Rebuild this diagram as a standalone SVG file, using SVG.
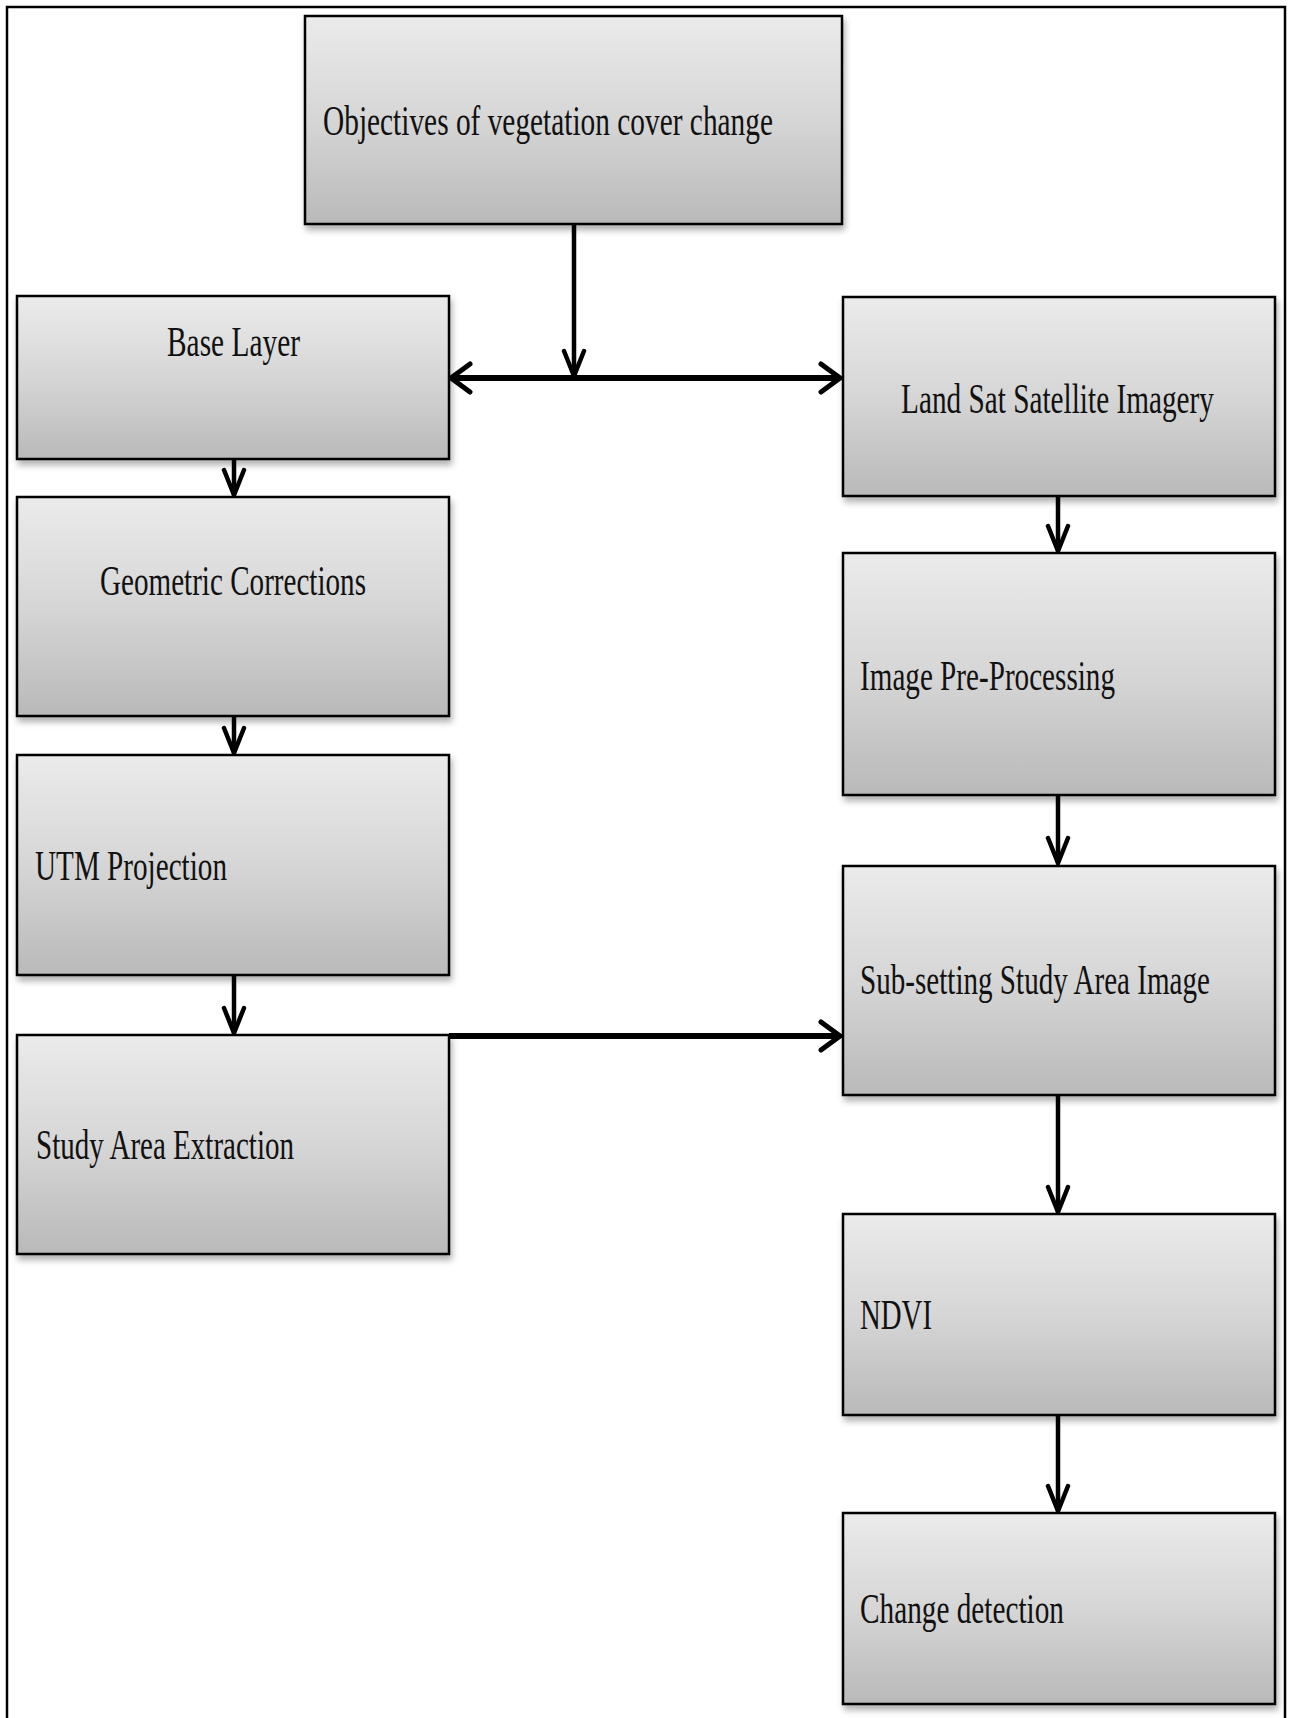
<svg xmlns="http://www.w3.org/2000/svg" width="1292" height="1718" viewBox="0 0 1292 1718">
<style>
.box{fill:url(#g);stroke:#000;stroke-width:2.5;filter:url(#sh)}
.t{font-family:"Liberation Serif","Times New Roman",serif;font-size:28px;fill:#111}
.v{stroke:#000;stroke-width:4.5;fill:none;marker-end:url(#av)}
.h{stroke:#000;stroke-width:6;fill:none;marker-end:url(#ah)}
</style>
<defs>
<linearGradient id="g" x1="0" y1="0" x2="0" y2="1">
<stop offset="0" stop-color="#ebebeb"/>
<stop offset="0.5" stop-color="#d6d6d6"/>
<stop offset="1" stop-color="#b9b9b9"/>
</linearGradient>
<filter id="sh" x="-5%" y="-5%" width="115%" height="120%">
<feDropShadow dx="2" dy="5" stdDeviation="3" flood-color="#000" flood-opacity="0.3"/>
</filter>
<marker id="av" markerUnits="userSpaceOnUse" viewBox="-30 -14 34 28" refX="0" refY="0" markerWidth="34" markerHeight="28" orient="auto">
<path d="M-25,-10 L0,0 L-25,10" fill="none" stroke="#000" stroke-width="4.5" stroke-linecap="round" stroke-linejoin="miter"/>
</marker>
<marker id="ah" markerUnits="userSpaceOnUse" viewBox="-24 -18 28 36" refX="0" refY="0" markerWidth="28" markerHeight="36" orient="auto">
<path d="M-19,-14 L0,0 L-19,14" fill="none" stroke="#000" stroke-width="5" stroke-linecap="round" stroke-linejoin="miter"/>
</marker>
</defs>
<rect width="1292" height="1718" fill="#fff"/>
<path d="M7,1720 V7 H1285 V1720" fill="none" stroke="#000" stroke-width="2.5"/>

<g id="connectors">
<path class="v" d="M574,225 V376"/>
<path class="h" d="M574,378 H451"/>
<path class="h" d="M574,378 H840"/>
<path class="v" d="M234,460 V495"/>
<path class="v" d="M234,716 V753"/>
<path class="v" d="M234,975 V1033"/>
<path class="h" d="M449,1036 H840"/>
<path class="v" d="M1058,496 V551"/>
<path class="v" d="M1058,795 V863"/>
<path class="v" d="M1058,1095 V1212"/>
<path class="v" d="M1058,1415 V1511"/>
</g>

<g id="n-objectives">
<rect class="box" x="305" y="16" width="537" height="208"/>
<text class="t" transform="translate(323,135) scale(1,1.5)" textLength="450" lengthAdjust="spacingAndGlyphs">Objectives of vegetation cover change</text>
</g>
<g id="n-base">
<rect class="box" x="17" y="296" width="432" height="163"/>
<text class="t" transform="translate(167,356) scale(1,1.5)" textLength="133" lengthAdjust="spacingAndGlyphs">Base Layer</text>
</g>
<g id="n-landsat">
<rect class="box" x="843" y="297" width="432" height="199"/>
<text class="t" transform="translate(901,413) scale(1,1.5)" textLength="313" lengthAdjust="spacingAndGlyphs">Land Sat Satellite  Imagery</text>
</g>
<g id="n-geometric">
<rect class="box" x="17" y="497" width="432" height="219"/>
<text class="t" transform="translate(100,595) scale(1,1.5)" textLength="266" lengthAdjust="spacingAndGlyphs">Geometric Corrections</text>
</g>
<g id="n-utm">
<rect class="box" x="17" y="755" width="432" height="220"/>
<text class="t" transform="translate(35,880) scale(1,1.5)" textLength="192" lengthAdjust="spacingAndGlyphs">UTM Projection</text>
</g>
<g id="n-study">
<rect class="box" x="17" y="1035" width="432" height="219"/>
<text class="t" transform="translate(36,1159) scale(1,1.5)" textLength="258" lengthAdjust="spacingAndGlyphs">Study Area Extraction</text>
</g>
<g id="n-preproc">
<rect class="box" x="843" y="553" width="432" height="242"/>
<text class="t" transform="translate(860,690) scale(1,1.5)" textLength="255" lengthAdjust="spacingAndGlyphs">Image Pre-Processing</text>
</g>
<g id="n-subset">
<rect class="box" x="843" y="866" width="432" height="229"/>
<text class="t" transform="translate(860,994) scale(1,1.5)" textLength="350" lengthAdjust="spacingAndGlyphs">Sub-setting Study Area Image</text>
</g>
<g id="n-ndvi">
<rect class="box" x="843" y="1214" width="432" height="201"/>
<text class="t" transform="translate(860,1329) scale(1,1.5)" textLength="72" lengthAdjust="spacingAndGlyphs">NDVI</text>
</g>
<g id="n-change">
<rect class="box" x="843" y="1513" width="432" height="191"/>
<text class="t" transform="translate(860,1623) scale(1,1.5)" textLength="204" lengthAdjust="spacingAndGlyphs">Change detection</text>
</g>
</svg>
